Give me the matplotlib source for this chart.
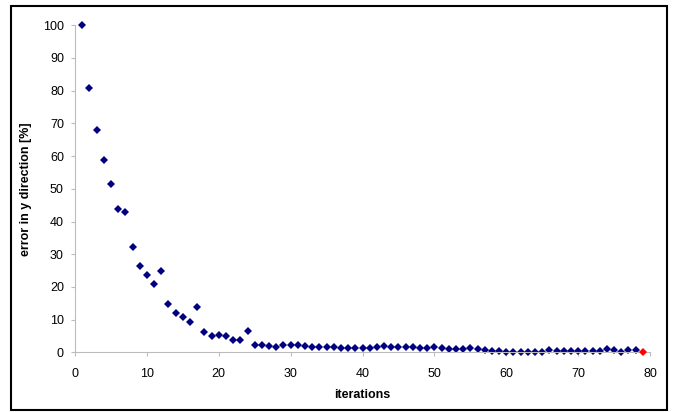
import matplotlib
matplotlib.use("Agg")
import matplotlib.pyplot as plt
from matplotlib.patches import Rectangle

plt.rcParams['font.family'] = ['Liberation Sans', 'DejaVu Sans']

iterations = list(range(1, 80))
error_y = [100, 80.7, 68.1, 58.7, 51.6, 43.7, 43.0, 32.1, 26.4, 23.5,
           21.0, 24.8, 14.7, 11.9, 10.7, 9.2, 13.9, 6.1, 5.1, 5.3,
           4.9, 3.7, 3.7, 6.4, 2.2, 2.1, 1.9, 1.6, 2.1, 2.1,
           2.1, 1.9, 1.6, 1.6, 1.6, 1.6, 1.3, 1.3, 1.3, 1.3,
           1.4, 1.5, 1.8, 1.7, 1.5, 1.7, 1.7, 1.4, 1.4, 1.5,
           1.4, 1.0, 1.0, 0.9, 1.2, 0.9, 0.7, 0.4, 0.4, 0.1,
           0.1, 0.1, 0.1, 0.1, 0.1, 0.7, 0.4, 0.4, 0.4, 0.5,
           0.4, 0.4, 0.4, 0.9, 0.7, 0.2, 0.7, 0.7, 0.2]
x_ticks = [0, 10, 20, 30, 40, 50, 60, 70, 80]
y_ticks = [0, 10, 20, 30, 40, 50, 60, 70, 80, 90, 100]

fig = plt.figure(figsize=(6.75, 4.12), dpi=100)
ax = fig.add_axes([75/675, 59.7/412, 575/675, 327/412])

ax.plot(iterations[:-1], error_y[:-1], linestyle='none', marker='D',
        markersize=4.2, color='#000080', markeredgewidth=0, clip_on=False)
ax.plot(iterations[-1:], error_y[-1:], linestyle='none', marker='D',
        markersize=4.2, color='#ff0000', markeredgewidth=0, clip_on=False, zorder=3)

ax.set_xlim(0, 80)
ax.set_ylim(0, 100)
ax.set_xticks(x_ticks)
ax.set_yticks(y_ticks)
for s in ['top', 'right']:
    ax.spines[s].set_visible(False)
for s in ['left', 'bottom']:
    ax.spines[s].set_color('#bcbcbc')
    ax.spines[s].set_linewidth(0.8)
ax.tick_params(axis='both', colors='#bcbcbc', labelcolor='black',
               labelsize=9, length=3, width=0.8)
ax.tick_params(axis='x', pad=8)
ax.tick_params(axis='y', pad=5)

ax.set_xlabel('iterations', fontsize=9, fontweight='bold', labelpad=7)
ax.set_ylabel('error in y direction [%]', fontsize=9, fontweight='bold', labelpad=8)

fig.add_artist(Rectangle((11/675, 2/412), 656/675, 404/412,
                         transform=fig.transFigure, fill=False,
                         edgecolor='black', linewidth=1.5))

fig.savefig('out.png', dpi=100)
